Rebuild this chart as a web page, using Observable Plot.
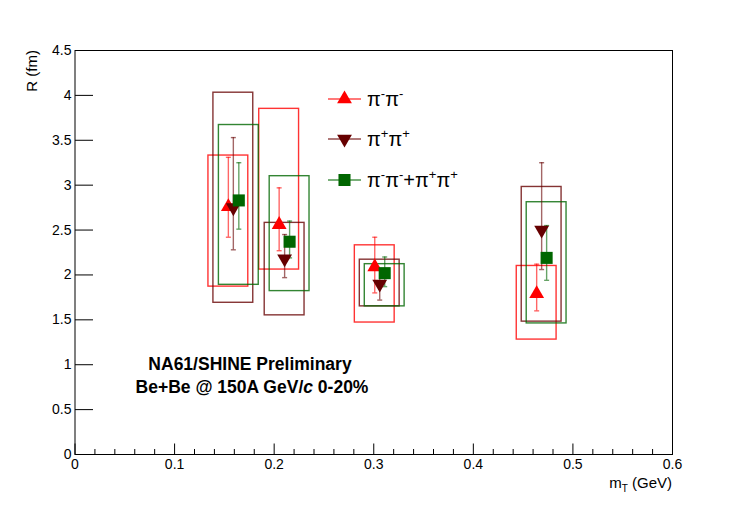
<!DOCTYPE html>
<html>
<head>
<meta charset="utf-8">
<script src="https://cdn.jsdelivr.net/npm/d3@7"></script>
<script src="https://cdn.jsdelivr.net/npm/@observablehq/plot@0.6"></script>
<style>
  html, body { margin: 0; padding: 0; background: #fff; }
  svg { display: block; }
</style>
</head>
<body>
<div id="chart"></div>
<script>
// ---- data ----
const seriesNames = ["π-π-", "π+π+", "π-π-+π+π+"];

const mmX      = [0.154, 0.205, 0.301, 0.4636];
const mmR      = [2.76, 2.56, 2.09, 1.79];
const mmStatHi = [3.31, 2.97, 2.42, 2.12];
const mmStatLo = [2.42, 2.27, 1.80, 1.60];
const mmSysHi  = [3.33, 3.85, 2.33, 2.10];
const mmSysLo  = [1.87, 2.06, 1.47, 1.28];

const ppX      = [0.159, 0.2105, 0.306, 0.4686];
const ppR      = [2.75, 2.18, 1.90, 2.50];
const ppStatHi = [3.53, 2.45, 2.06, 3.25];
const ppStatLo = [2.28, 1.97, 1.72, 2.06];
const ppSysHi  = [4.03, 2.58, 2.17, 2.98];
const ppSysLo  = [1.69, 1.55, 1.65, 1.48];

const allX      = [0.1645, 0.2155, 0.311, 0.4736];
const allR      = [2.83, 2.37, 2.02, 2.19];
const allStatHi = [3.25, 2.60, 2.20, 2.55];
const allStatLo = [2.51, 2.19, 1.87, 1.94];
const allSysHi  = [3.67, 3.10, 2.12, 2.81];
const allSysLo  = [1.89, 1.82, 1.65, 1.46];

const xMajorTicks = [0, 0.1, 0.2, 0.3, 0.4, 0.5, 0.6];
const xMinorTicks = [0.02,0.04,0.06,0.08,0.12,0.14,0.16,0.18,0.22,0.24,0.26,0.28,0.32,0.34,0.36,0.38,0.42,0.44,0.46,0.48,0.52,0.54,0.56,0.58];
const yMajorTicks = [0, 0.5, 1, 1.5, 2, 2.5, 3, 3.5, 4, 4.5];

// ---- styling ----
const colors = ["#ff0000", "#660000", "#006600"];
const boxHalfWidth = 0.02; // systematic box half-width in GeV

function build(name, color, xs, r, sh, sl, yh, yl) {
  return xs.map((x, i) => ({series: name, color, x, R: r[i], statHi: sh[i], statLo: sl[i], sysHi: yh[i], sysLo: yl[i]}));
}
const mm = build(seriesNames[0], colors[0], mmX, mmR, mmStatHi, mmStatLo, mmSysHi, mmSysLo);
const pp = build(seriesNames[1], colors[1], ppX, ppR, ppStatHi, ppStatLo, ppSysHi, ppSysLo);
const all = build(seriesNames[2], colors[2], allX, allR, allStatHi, allStatLo, allSysHi, allSysLo);
const sets = [mm, pp, all];

const capSymbol = {draw(ctx) { ctx.moveTo(-2.5, 0); ctx.lineTo(2.5, 0); }};
const vTick = len => ({draw(ctx) { ctx.moveTo(0, 0); ctx.lineTo(0, -len); }});
const hTick = len => ({draw(ctx) { ctx.moveTo(0, 0); ctx.lineTo(len, 0); }});

const markerOpts = [
  {symbol: "triangle", r: 5.5, rotate: 0},
  {symbol: "triangle", r: 5.5, rotate: 180},
  {symbol: "square", r: 6.8, rotate: 0}
];

const marks = [];
// systematic boxes
sets.forEach((s, k) => {
  marks.push(Plot.rect(s, {
    x1: d => d.x - boxHalfWidth, x2: d => d.x + boxHalfWidth,
    y1: "sysLo", y2: "sysHi",
    fill: "none", stroke: colors[k], strokeWidth: 1.4, strokeOpacity: 0.8
  }));
});
// stat error bars
sets.forEach((s, k) => {
  marks.push(Plot.ruleX(s, {x: "x", y1: "statLo", y2: "statHi", stroke: colors[k], strokeWidth: 1.4, strokeOpacity: 0.6}));
  marks.push(Plot.dot(s, {x: "x", y: "statHi", symbol: capSymbol, fill: "none", stroke: colors[k], strokeWidth: 1.4, strokeOpacity: 0.6}));
  marks.push(Plot.dot(s, {x: "x", y: "statLo", symbol: capSymbol, fill: "none", stroke: colors[k], strokeWidth: 1.4, strokeOpacity: 0.6}));
});
// markers
sets.forEach((s, k) => {
  marks.push(Plot.dot(s, {x: "x", y: "R", symbol: markerOpts[k].symbol, r: markerOpts[k].r, rotate: markerOpts[k].rotate, fill: colors[k], stroke: "none"}));
});

// ticks (ROOT style, inside frame)
marks.push(Plot.dot(xMajorTicks, {x: d => d, y: 0, symbol: vTick(11), fill: "none", stroke: "black", strokeWidth: 1}));
marks.push(Plot.dot(xMinorTicks, {x: d => d, y: 0, symbol: vTick(5.5), fill: "none", stroke: "black", strokeWidth: 1}));
marks.push(Plot.dot(yMajorTicks, {x: 0, y: d => d, symbol: hTick(18), fill: "none", stroke: "black", strokeWidth: 1}));

marks.push(Plot.axisX(xMajorTicks, {tickSize: 0, tickPadding: 5, label: null, tickFormat: d3.format("~g"), fontSize: 14}));
marks.push(Plot.axisY(yMajorTicks, {tickSize: 0, tickPadding: 3.5, label: null, tickFormat: d3.format("~g"), fontSize: 14}));
marks.push(Plot.frame({stroke: "black", strokeWidth: 1}));

const svg = Plot.plot({
  width: 747,
  height: 506,
  marginLeft: 74.5,
  marginRight: 75,
  marginTop: 50,
  marginBottom: 52,
  x: {domain: [0, 0.6]},
  y: {domain: [0, 4.5]},
  style: {fontFamily: "'Liberation Sans', Arial, sans-serif", fontSize: "14px", color: "black", background: "white"},
  marks
});

const g = d3.select(svg);
const font = "'Liberation Sans', Arial, sans-serif";

// axis titles
g.append("text")
  .attr("transform", "translate(37,50) rotate(-90)")
  .attr("text-anchor", "end")
  .attr("font-family", font).attr("font-size", 15)
  .text("R (fm)");

const xt = g.append("text")
  .attr("x", 672).attr("y", 488)
  .attr("text-anchor", "end")
  .attr("font-family", font).attr("font-size", 15);
xt.append("tspan").text("m");
xt.append("tspan").attr("dy", 4).attr("font-size", 10).text("T");
xt.append("tspan").attr("dy", -4).text(" (GeV)");

// legend
const legendRows = [99, 139, 180];
const legendLabels = [
  [["π", 0], ["-", 1], ["π", 0], ["-", 1]],
  [["π", 0], ["+", 1], ["π", 0], ["+", 1]],
  [["π", 0], ["-", 1], ["π", 0], ["-", 1], ["+π", 0], ["+", 1], ["π", 0], ["+", 1]]
];
const legendSymbols = [d3.symbolTriangle, d3.symbolTriangle, d3.symbolSquare];
legendRows.forEach((yy, k) => {
  g.append("line").attr("x1", 328).attr("x2", 361).attr("y1", yy).attr("y2", yy)
    .attr("stroke", colors[k]).attr("stroke-width", 1.4).attr("stroke-opacity", 0.7);
  const size = Math.PI * markerOpts[k].r * markerOpts[k].r;
  g.append("path")
    .attr("d", d3.symbol(legendSymbols[k], size)())
    .attr("transform", `translate(344.5,${yy}) rotate(${markerOpts[k].rotate})`)
    .attr("fill", colors[k]);
  const t = g.append("text").attr("x", 367).attr("y", yy + 7)
    .attr("text-anchor", "start")
    .attr("font-family", font).attr("font-size", 20);
  let sup = 0;
  legendLabels[k].forEach(([s, isSup]) => {
    const sp = t.append("tspan").text(s);
    if (isSup && !sup) { sp.attr("dy", -8).attr("font-size", 13); sup = 1; }
    else if (isSup && sup) { sp.attr("font-size", 13); }
    else if (!isSup && sup) { sp.attr("dy", 8); sup = 0; }
  });
});

// annotation
const ann = g.append("g").attr("font-family", font).attr("font-weight", "bold").attr("font-size", 17.5).attr("text-anchor", "middle");
ann.append("text").attr("x", 250).attr("y", 370).text("NA61/SHINE Preliminary");
const l2 = ann.append("text").attr("x", 252).attr("y", 392.5);
l2.append("tspan").text("Be+Be @ 150A GeV/");
l2.append("tspan").attr("font-style", "italic").text("c");
l2.append("tspan").text(" 0-20%");

document.getElementById("chart").appendChild(svg);
</script>
</body>
</html>
